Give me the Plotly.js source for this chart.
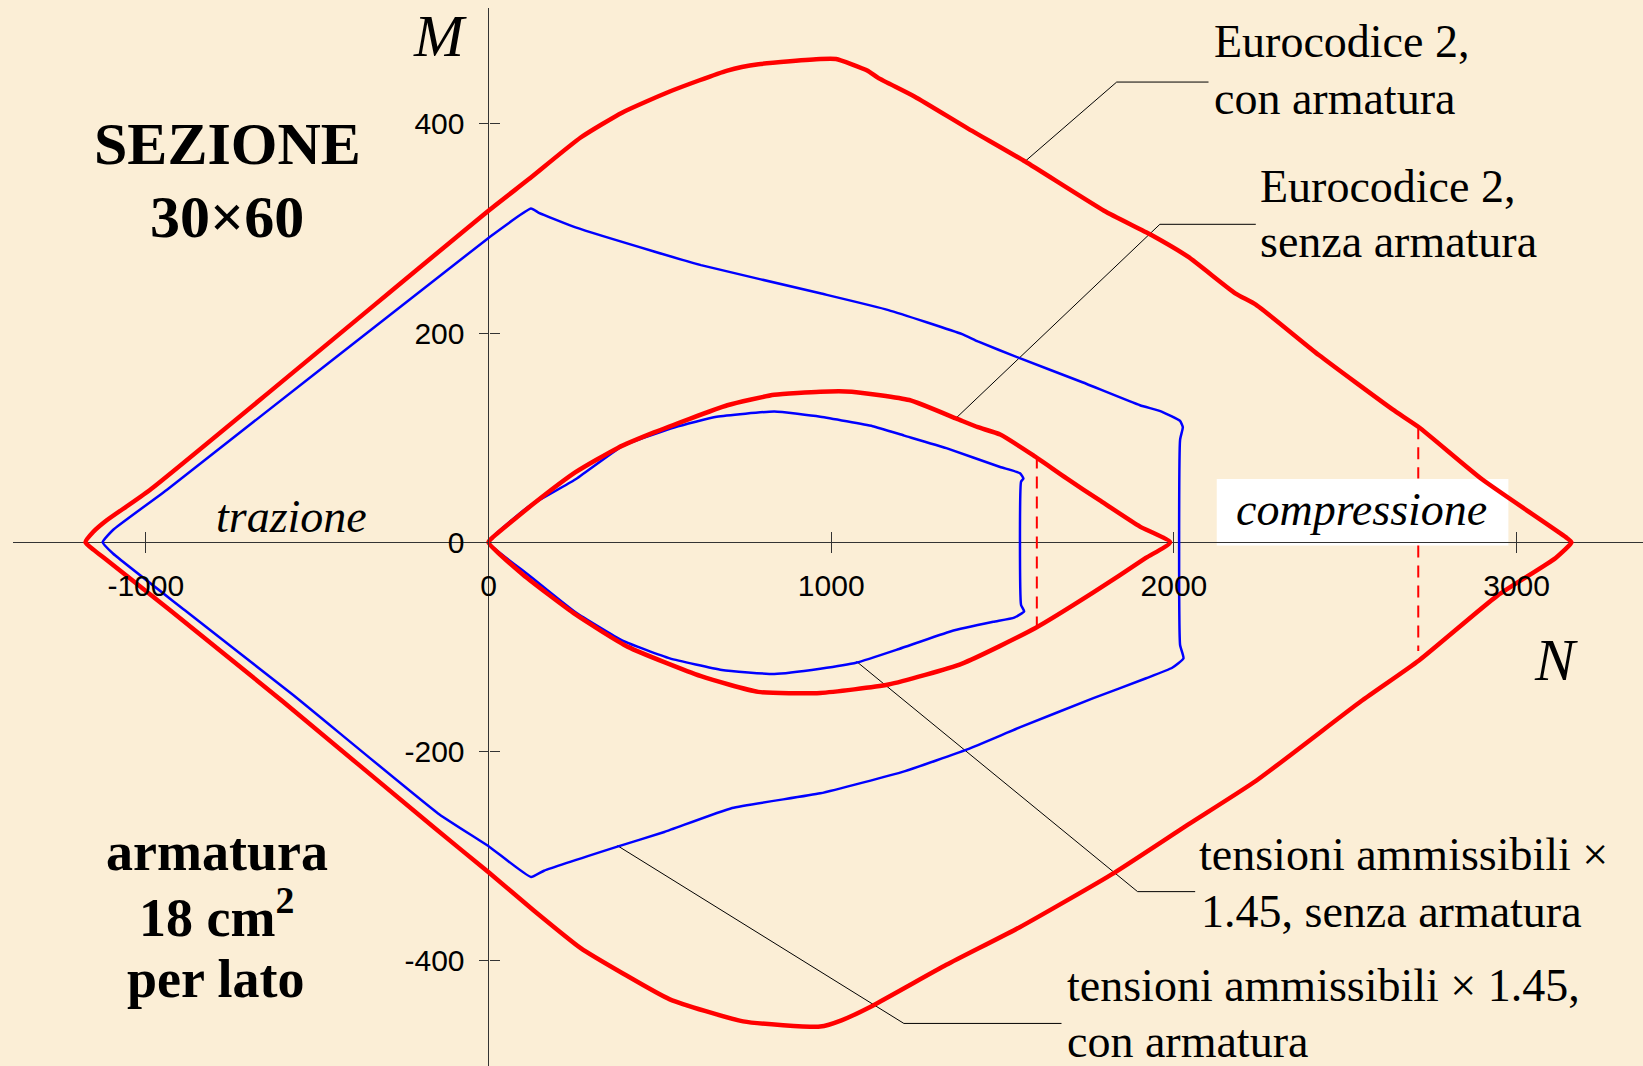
<!DOCTYPE html>
<html><head><meta charset="utf-8">
<script src="https://cdn.plot.ly/plotly-3.0.1.min.js"></script>
<style>html,body{margin:0;padding:0;background:#FBEED6;overflow:hidden;} #chart{width:1643px;height:1066px;}</style>
</head><body><div id="chart"></div>
<script>
// ---- Data (N in kN, M in kNm) ----
// Eurocodice 2, con armatura (red, outer)
const ec2ConN = [-1176,-1153,-1114,-988,0,117,269,391,529,697,788,968,1014,1105,1137,1244,1397,1566,1796,1933,2041,2179,2240,2423,2638,2715,2900,3143,3160,
                 3114,2944,2715,2546,2240,2041,1826,1550,1336,1121,1030,968,743,529,391,269,132,2,-158,-601,-929,-1114,-1153,-1176];
const ec2ConM = [0,10,21,50,317,347,387,411,431,451,457,462,462,451,444,426,396,364,317,294,273,238,227,179,127,110,60,5,0,
                 -15,-51,-113,-152,-228,-270,-316,-368,-404,-443,-457,-463,-458,-437,-412,-388,-352,-316,-273,-152,-65,-17,-7,0];
// tensioni ammissibili x 1.45, con armatura (blue, outer)
const taConN = [-1126,-1095,-939,0,124,147,254,483,620,968,1167,1382,1428,1550,1733,1901,1964,2018,2026,2018,2018,
                2028,1995,1919,1765,1550,1397,1213,968,711,513,376,162,124,2,-144,-570,-886,-1095,-1126];
const taConM = [0,12,50,291,319,315,301,278,265,238,222,199,192,176,153,131,125,116,110,98,-98,
                -111,-120,-130,-149,-177,-198,-219,-240,-254,-277,-291,-314,-320,-291,-260,-146,-65,-11,0];
// Eurocodice 2, senza armatura (red, inner)
const ec2SenzaN = [0,10,132,254,376,483,697,834,968,1060,1228,1367,1428,1493,1590,1687,1784,1901,1989,
                   1918,1765,1596,1382,1167,968,787,620,407,254,101,0];
const ec2SenzaM = [0,4,37,67,90,105,131,141,144,144,136,118,110,103,83,61,40,15,0,
                   -15,-48,-82,-116,-136,-144,-143,-128,-100,-69,-31,0];
// tensioni ammissibili x 1.45, senza armatura (blue, inner)
const taSenzaN = [0,25,116,253,391,544,666,834,968,1121,1213,1336,1493,1551,1561,1554,1554,1563,1534,1473,1350,1198,1075,968,834,681,529,391,254,116,0];
const taSenzaM = [0,9,34,60,92,110,120,125,120,111,102,90,72,66,61,58,-60,-66,-72,-76,-85,-102,-115,-121,-126,-122,-111,-94,-67,-31,0];
// red dashed limits
const dash1N = [1600,1600];
const dash1M = [82,-82];
const dash2N = [2713,2713,null,2713,2713];
const dash2M = [110,61,null,-3,-104];
// leader lines
const lead1N = [1565,1833,2101];  const lead1M = [364,440,440];
const lead2N = [1362,1959,2239];  const lead2M = [118,304,304];
const lead3N = [1074,1894,2062];  const lead3M = [-114,-334,-334];
const lead4N = [376,1212,1672];   const lead4M = [-290,-460,-460];
// axes ticks
const xTicks = [-1000,0,1000,2000,3000];
const xTickText = ['-1000','0','1000','2000','3000'];
const yTicks = [-400,-200,0,200,400];
const yTickText = ['-400','-200','0','200','400'];
const xRange = [-1387.5, 3368.8];
const yRange = [-500.7, 510.8];

// ---- Layout helpers ----
const W = 1643, H = 1066, mL = 13, mT = 8;
const pw = W - mL, ph = H - mT;
const px = x => (x - mL) / pw;
const py = y => (H - y) / ph;
const xPos = (0 - yRange[0]) / (yRange[1] - yRange[0]);
const yPos = (0 - xRange[0]) / (xRange[1] - xRange[0]);

const RED = '#FF0000', BLUE = '#0000FF';
const serif = 'Liberation Serif, Times New Roman, serif';
const sans = 'Liberation Sans, Arial, sans-serif';

function line(x, y, color, width, dash, smooth) {
  return {x, y, type:'scatter', mode:'lines',
          line:{color, width, dash: dash || 'solid', shape: smooth ? 'spline' : 'linear', smoothing: smooth || 0},
          hoverinfo:'skip', showlegend:false, connectgaps:false, cliponaxis:true};
}
const traces = [
  line(lead1N, lead1M, '#000', 1), line(lead2N, lead2M, '#000', 1),
  line(lead3N, lead3M, '#000', 1), line(lead4N, lead4M, '#000', 1),
  line(dash1N, dash1M, RED, 2, '12px,8px'), line(dash2N, dash2M, RED, 2, '12px,8px'),
  line(taConN, taConM, BLUE, 2.5, null, 0.4), line(taSenzaN, taSenzaM, BLUE, 2.5, null, 0.4),
  line(ec2ConN, ec2ConM, RED, 4.5, null, 0.5), line(ec2SenzaN, ec2SenzaM, RED, 4.5, null, 0.5),
  {x:[null], y:[null], xaxis:'x2', yaxis:'y2', type:'scatter', mode:'lines', hoverinfo:'skip', showlegend:false}
];

function ann(text, x, y, size, opts) {
  return Object.assign({text, x:px(x), y:py(y), xref:'paper', yref:'paper', showarrow:false,
    xanchor:'center', yanchor:'middle', font:{family:serif, size, color:'#000'}}, opts || {});
}
const annotations = [
  ann('<i>M</i>', 440, 36.5, 60),
  ann('<i>N</i>', 1556, 660, 60),
  ann('<b>SEZIONE</b>', 227.5, 143.8, 60),
  ann('<b>30×60</b>', 227, 216.5, 60),
  ann('<b>armatura</b>', 216.7, 851.8, 54),
  ann('<b>18 cm<sup>2</sup></b>', 216.7, 913, 54),
  ann('<b>per lato</b>', 215, 978.8, 54),
  ann('<i>trazione</i>', 291.8, 516, 46),
  ann('<i>compressione</i>', 1361, 509.5, 46),
  ann('Eurocodice 2,', 1212, 41.3, 46, {xanchor:'left'}),
  ann('con armatura', 1212, 98, 46, {xanchor:'left'}),
  ann('Eurocodice 2,', 1258, 186, 46, {xanchor:'left'}),
  ann('senza armatura', 1258, 241, 46, {xanchor:'left'}),
  ann('tensioni ammissibili ×', 1197, 854.5, 46, {xanchor:'left'}),
  ann('1.45, senza armatura', 1199, 911, 46, {xanchor:'left'}),
  ann('tensioni ammissibili × 1.45,', 1065, 986, 46, {xanchor:'left'}),
  ann('con armatura', 1065, 1041, 46, {xanchor:'left'})
];

const tickFont = {family:sans, size:30, color:'#000'};
const layout = {
  width: W, height: H,
  margin: {l:mL, r:0, t:mT, b:0, pad:0},
  paper_bgcolor: '#FBEED6', plot_bgcolor: '#FBEED6',
  showlegend: false,
  xaxis: {range:xRange, zeroline:true, zerolinecolor:'#333', zerolinewidth:1, showgrid:false, showline:false,
          anchor:'free', position:xPos, side:'bottom', ticks:'outside', ticklen:10, tickwidth:1, tickcolor:'#333',
          tickmode:'array', tickvals:xTicks, ticktext:xTickText, tickfont:tickFont, ticklabelstandoff:7, fixedrange:true},
  xaxis2: {range:xRange, overlaying:'x', anchor:'free', position:xPos, side:'bottom', ticks:'inside', ticklen:10,
           tickwidth:1, tickcolor:'#333', tickmode:'array', tickvals:xTicks, showticklabels:false,
           showgrid:false, zeroline:false, showline:false, fixedrange:true},
  yaxis: {range:yRange, zeroline:true, zerolinecolor:'#333', zerolinewidth:1, showgrid:false, showline:false,
          anchor:'free', position:yPos, side:'left', ticks:'outside', ticklen:10, tickwidth:1, tickcolor:'#333',
          tickmode:'array', tickvals:yTicks, ticktext:yTickText, tickfont:tickFont, ticklabelstandoff:8, fixedrange:true},
  yaxis2: {range:yRange, overlaying:'y', anchor:'free', position:yPos, side:'left', ticks:'inside', ticklen:10,
           tickwidth:1, tickcolor:'#333', tickmode:'array', tickvals:yTicks, showticklabels:false,
           showgrid:false, zeroline:false, showline:false, fixedrange:true},
  shapes: [
    {type:'rect', xref:'x', yref:'y', x0:2125, x1:2976, y0:-3, y1:60.5, fillcolor:'#FFFFFF', line:{width:0}, layer:'below'}
  ],
  annotations
};
Plotly.newPlot('chart', traces, layout, {staticPlot:true, displayModeBar:false});
</script></body></html>
